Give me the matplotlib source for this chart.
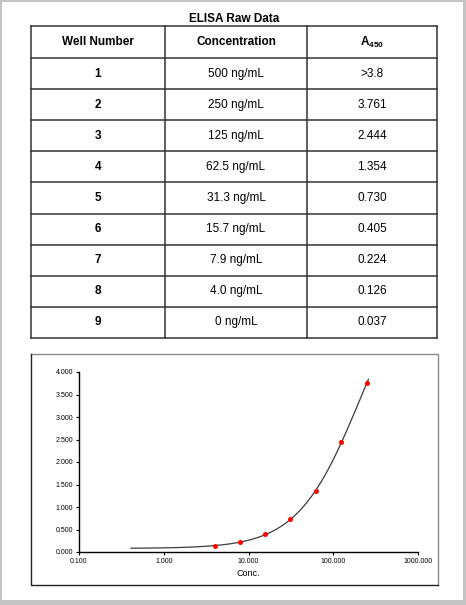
import matplotlib
matplotlib.use("Agg")
import matplotlib.pyplot as plt
import numpy as np
from matplotlib.ticker import FixedLocator, FormatStrFormatter, NullLocator

plt.rcParams['font.family'] = ['Liberation Sans', 'DejaVu Sans']
plt.rcParams['mathtext.fontset'] = 'custom'
plt.rcParams['mathtext.rm'] = 'Liberation Sans:bold'
plt.rcParams['mathtext.it'] = 'Liberation Sans:bold'

# table data
title = "ELISA Raw Data"
headers = ["Well Number", "Concentration", r"A$_{450}$"]
wells = ["1", "2", "3", "4", "5", "6", "7", "8", "9"]
conc_labels = ["500 ng/mL", "250 ng/mL", "125 ng/mL", "62.5 ng/mL", "31.3 ng/mL",
               "15.7 ng/mL", "7.9 ng/mL", "4.0 ng/mL", "0 ng/mL"]
a450_labels = [">3.8", "3.761", "2.444", "1.354", "0.730", "0.405", "0.224", "0.126", "0.037"]

# plotted standards (well 1 is over range, well 9 can't go on a log axis)
conc = [250, 125, 62.5, 31.3, 15.7, 7.9, 4.0]
a450 = [3.761, 2.444, 1.354, 0.730, 0.405, 0.224, 0.126]
y_ticks = [0, 0.5, 1.0, 1.5, 2.0, 2.5, 3.0, 3.5, 4.0]
x_ticks = [0.1, 1, 10, 100, 1000]


def fit_4pl(x, y):
    # grid over slope/midpoint, bottom and top solved by least squares
    x = np.asarray(x, float)
    y = np.asarray(y, float)
    best = None
    for b in np.linspace(0.5, 2.5, 81):
        for c in np.logspace(1, 4, 151):
            g = 1.0 / (1.0 + (x / c) ** b)
            M = np.column_stack([g, 1 - g])
            coef, *_ = np.linalg.lstsq(M, y, rcond=None)
            err = np.sum((M @ coef - y) ** 2)
            if best is None or err < best[0]:
                best = (err, coef[0], coef[1], b, c)
    _, a, d, b, c = best
    return lambda t: d + (a - d) / (1.0 + (t / c) ** b)


W, H = 466, 605
fig = plt.figure(figsize=(W / 100, H / 100), dpi=100)
fig.patch.set_facecolor("#c3c3c3")

# page + table drawn in pixel coords
page = fig.add_axes([0, 0, 1, 1])
page.set_xlim(0, W)
page.set_ylim(H, 0)
page.axis("off")
page.add_patch(plt.Rectangle((2, 2), 461, 598, facecolor="white", edgecolor="none"))

page.text(234, 19, title, ha="center", va="center", fontsize=8.5, fontweight="bold")

col_x = [31, 165, 307, 437]
row_y = [26, 58] + [58 + 31.1 * (i + 1) for i in range(len(wells))]
line_col = "#333333"
for yy in row_y:
    page.plot([col_x[0], col_x[-1]], [yy, yy], color=line_col, lw=1.1)
for xx in col_x:
    page.plot([xx, xx], [row_y[0], row_y[-1]], color=line_col, lw=1.1)

centers = [(col_x[i] + col_x[i + 1]) / 2 for i in range(3)]
for j, h in enumerate(headers):
    page.text(centers[j], (row_y[0] + row_y[1]) / 2, h, ha="center", va="center",
              fontsize=8.5, fontweight="bold")
for i in range(len(wells)):
    yc = (row_y[i + 1] + row_y[i + 2]) / 2
    page.text(centers[0], yc, wells[i], ha="center", va="center", fontsize=8.5, fontweight="bold")
    page.text(centers[1], yc, conc_labels[i], ha="center", va="center", fontsize=8.5)
    page.text(centers[2], yc, a450_labels[i], ha="center", va="center", fontsize=8.5)

# chart frame
page.plot([31, 438, 438], [354, 354, 585], color="#8a8a8a", lw=1)
page.plot([31, 31, 438], [354, 585, 585], color="#222222", lw=1)

ax = fig.add_axes([79 / W, (H - 552) / H, 339 / W, 180 / H])
ax.set_facecolor("none")
ax.set_xscale("log")
ax.set_xlim(0.1, 1000)
ax.set_ylim(0, 4)

curve = fit_4pl(conc, a450)
xs = np.logspace(np.log10(0.41), np.log10(260), 300)
ax.plot(xs, curve(xs), color="#3c3c3c", lw=0.9, zorder=2)
ax.plot(conc, a450, "o", color="red", ms=3.6, mec="none", zorder=3)

for s in ["top", "right"]:
    ax.spines[s].set_visible(False)
for s in ["left", "bottom"]:
    ax.spines[s].set_linewidth(1)
ax.yaxis.set_major_locator(FixedLocator(y_ticks))
ax.yaxis.set_major_formatter(FormatStrFormatter("%.3f"))
ax.xaxis.set_major_locator(FixedLocator(x_ticks))
ax.xaxis.set_minor_locator(NullLocator())
ax.xaxis.set_major_formatter(FormatStrFormatter("%.3f"))
ax.tick_params(labelsize=5, length=2.5, width=0.8, pad=1.5)
ax.set_xlabel("Conc.", fontsize=6.5, labelpad=3)

fig.savefig("out.png", dpi=100, facecolor=fig.get_facecolor())
